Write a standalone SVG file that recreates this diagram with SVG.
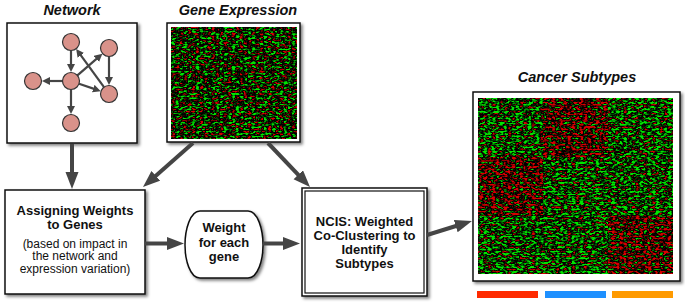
<svg xmlns="http://www.w3.org/2000/svg" width="685" height="302" viewBox="0 0 685 302">
<style>
.title{font-family:"Liberation Sans",Arial,sans-serif;font-weight:bold;font-style:italic;font-size:14.5px;fill:#111;text-anchor:middle}
.b{font-family:"Liberation Sans",Arial,sans-serif;font-weight:bold;font-size:13px;fill:#111;text-anchor:middle}
.r{font-family:"Liberation Sans",Arial,sans-serif;font-size:12px;fill:#111;text-anchor:middle}
.box{fill:#fff;stroke:#111;stroke-width:1.5}
.node{fill:#d9928a;stroke:#333;stroke-width:1.2}
.main{stroke:#454545;stroke-width:4;fill:none;marker-end:url(#bigHead)}
.sm{stroke:#454545;stroke-width:2.2;fill:none;marker-end:url(#smHead)}
</style>
<defs>
<filter id="shadow" x="-10%" y="-10%" width="125%" height="125%">
<feDropShadow dx="2" dy="2" stdDeviation="1.5" flood-color="#000" flood-opacity="0.5"/>
</filter>
<filter id="hmMix" x="0" y="0" width="1" height="1" color-interpolation-filters="sRGB">
<feTurbulence type="fractalNoise" baseFrequency="0.25 0.45" numOctaves="2" seed="4" result="n"/>
<feColorMatrix in="n" type="matrix" values="5.5 0 0 0 -3.05  -5.5 0 0 0 2.75  0 0 0 0 0  0 0 0 0 1"/>
<feComponentTransfer><feFuncR type="linear" slope="0.85"/><feFuncG type="linear" slope="0.9"/></feComponentTransfer>
<feComposite in2="SourceGraphic" operator="in"/>
</filter>
<filter id="hmGreen" x="0" y="0" width="1" height="1" color-interpolation-filters="sRGB">
<feTurbulence type="fractalNoise" baseFrequency="0.25 0.45" numOctaves="2" seed="11" result="n"/>
<feColorMatrix in="n" type="matrix" values="5.5 0 0 0 -3.2  -5.5 0 0 0 2.95  0 0 0 0 0  0 0 0 0 1"/>
<feComponentTransfer><feFuncR type="linear" slope="0.85"/><feFuncG type="linear" slope="0.9"/></feComponentTransfer>
<feComposite in2="SourceGraphic" operator="in"/>
</filter>
<filter id="hmRed" x="0" y="0" width="1" height="1" color-interpolation-filters="sRGB">
<feTurbulence type="fractalNoise" baseFrequency="0.25 0.45" numOctaves="2" seed="23" result="n"/>
<feColorMatrix in="n" type="matrix" values="5.5 0 0 0 -2.6  -5.5 0 0 0 2.3  0 0 0 0 0  0 0 0 0 1"/>
<feComponentTransfer><feFuncR type="linear" slope="0.85"/><feFuncG type="linear" slope="0.9"/></feComponentTransfer>
<feComposite in2="SourceGraphic" operator="in"/>
</filter>
<pattern id="stripes" width="8" height="5" patternUnits="userSpaceOnUse">
<rect x="0" y="0" width="8" height="1" fill="#000" opacity="0.3"/>
</pattern>
<marker id="bigHead" markerUnits="userSpaceOnUse" markerWidth="18" markerHeight="14" refX="7" refY="6.5" orient="auto">
<path d="M0,0 L17,6.5 L0,13 Z" fill="#454545"/>
</marker>
<marker id="smHead" markerUnits="userSpaceOnUse" markerWidth="9" markerHeight="9" refX="4" refY="4" orient="auto">
<path d="M0,0 L8,4 L0,8 Z" fill="#454545"/>
</marker>
</defs>

<g id="network">
<text class="title" x="72" y="15">Network</text>
<rect class="box" x="7" y="23" width="130" height="120" filter="url(#shadow)"/>
<g id="network-edges">
<line class="sm" x1="71" y1="50.5" x2="71" y2="68"/>
<line class="sm" x1="62.5" y1="81" x2="46" y2="81"/>
<line class="sm" x1="71" y1="89.5" x2="71" y2="110"/>
<line class="sm" x1="79" y1="83.7" x2="97" y2="89.9"/>
<line class="sm" x1="77.4" y1="75.4" x2="99.4" y2="56.3"/>
<line class="sm" x1="104" y1="87.1" x2="78.5" y2="52.2"/>
<line class="sm" x1="109" y1="56.5" x2="109" y2="81"/>
</g>
<circle class="node" cx="71" cy="42" r="8.5"/>
<circle class="node" cx="109" cy="48" r="8.5"/>
<circle class="node" cx="71" cy="81" r="8.5"/>
<circle class="node" cx="33" cy="81" r="8.5"/>
<circle class="node" cx="109" cy="94" r="8.5"/>
<circle class="node" cx="71" cy="123" r="8.5"/>
</g>

<g id="gene-expression">
<text class="title" x="238" y="15">Gene Expression</text>
<rect class="box" x="167" y="23" width="133" height="119" filter="url(#shadow)"/>
<rect x="171" y="27" width="126" height="112" fill="#000" filter="url(#hmMix)"/>
<rect x="171" y="27" width="126" height="112" fill="url(#stripes)"/>
</g>

<g id="cancer-subtypes">
<text class="title" x="577" y="82">Cancer Subtypes</text>
<rect class="box" x="473" y="92" width="207" height="189" filter="url(#shadow)"/>
<rect x="478" y="98" width="195" height="176" fill="#000" filter="url(#hmGreen)"/>
<rect x="543" y="98" width="65" height="59" fill="#000" filter="url(#hmRed)"/>
<rect x="478" y="157" width="65" height="59" fill="#000" filter="url(#hmRed)"/>
<rect x="608" y="216" width="65" height="58" fill="#000" filter="url(#hmRed)"/>
<rect x="478" y="98" width="195" height="176" fill="url(#stripes)"/>
<rect x="477" y="291" width="61" height="7" fill="#ff2a00"/>
<rect x="545" y="291" width="61" height="7" fill="#1e90ff"/>
<rect x="612" y="291" width="61" height="7" fill="#ff9a00"/>
</g>

<g id="assigning-weights">
<rect class="box" x="5" y="190" width="140" height="104" filter="url(#shadow)"/>
<text class="b" x="75" y="215">Assigning Weights</text>
<text class="b" x="75" y="229">to Genes</text>
<text class="r" x="75" y="247.5">(based on impact in</text>
<text class="r" x="75" y="260">the network and</text>
<text class="r" x="75" y="272.5">expression variation)</text>
</g>

<g id="weight-for-each-gene">
<path class="box" d="M200,211 H248 C258,211 263,230 263,245 C263,260 258,278 248,278 H200 C190,278 185,260 185,245 C185,230 190,211 200,211 Z" filter="url(#shadow)"/>
<text class="b" x="224" y="232">Weight</text>
<text class="b" x="224" y="246.5">for each</text>
<text class="b" x="224" y="260.5">gene</text>
</g>

<g id="ncis">
<rect class="box" x="302" y="188" width="125" height="108" filter="url(#shadow)"/>
<rect x="305" y="191" width="119" height="102" fill="none" stroke="#111" stroke-width="1.2"/>
<text class="b" x="364.5" y="225.5">NCIS: Weighted</text>
<text class="b" x="364.5" y="239.5">Co-Clustering to</text>
<text class="b" x="364.5" y="253.5">Identify</text>
<text class="b" x="364.5" y="267.5">Subtypes</text>
</g>

<g id="connectors">
<line class="main" x1="72" y1="144" x2="72" y2="179"/>
<line class="main" x1="193" y1="143" x2="150.5" y2="180.4"/>
<line class="main" x1="268" y1="143" x2="303.1" y2="179.8"/>
<line class="main" x1="145" y1="243.5" x2="174" y2="243.5"/>
<line class="main" x1="263" y1="243.5" x2="290" y2="243.5"/>
<line class="main" x1="427" y1="235" x2="462.4" y2="224"/>
</g>
</svg>
